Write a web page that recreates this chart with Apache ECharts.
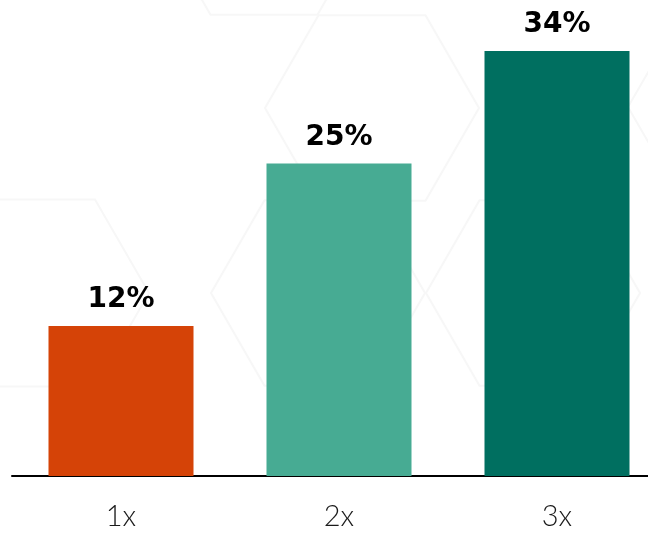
<!DOCTYPE html>
<html><head><meta charset="utf-8">
<script src="https://cdn.jsdelivr.net/npm/echarts@6/dist/echarts.min.js"></script>
<style>html,body{margin:0;padding:0;background:#fff;overflow:hidden;width:648px;height:534px}#c{width:666px;height:534px}</style>
</head><body><div id="c"></div>
<script>
const categories = ['1x', '2x', '3x'];
const values = [12, 25, 34];
const barColors = ['#d54307', '#47ab93', '#006f60'];

function hex(cx, cy, r) {
  const pts = [];
  for (let i = 0; i < 6; i++) {
    const a = Math.PI / 3 * i;
    pts.push([cx + r * Math.cos(a), cy + r * Math.sin(a)]);
  }
  return { type: 'polygon', z: -10, silent: true,
    shape: { points: pts },
    style: { fill: 'none', stroke: '#f7f7f7', lineWidth: 2 } };
}

const chart = echarts.init(document.getElementById('c'));
chart.setOption({
  animation: false,
  backgroundColor: '#fff',
  graphic: [hex(372, 108, 107), hex(41, 293, 108), hex(318, 293, 107), hex(533, 293, 107), hex(735, 107, 107), hex(264, -78, 107)],
  grid: { left: 12, right: 0, top: 26, bottom: 58, containLabel: false },
  xAxis: {
    type: 'category', data: categories,
    axisLine: { lineStyle: { color: '#000', width: 2 } },
    axisTick: { show: false },
    axisLabel: { color: '#1a1a1a', fontFamily: 'Lato', fontWeight: 300, fontSize: 29, margin: 26 }
  },
  yAxis: { type: 'value', min: 0, max: 36, show: false, splitLine: { show: false } },
  series: [{
    type: 'bar', barWidth: 145,
    data: values.map((v, i) => ({ value: v, itemStyle: { color: barColors[i] } })),
    label: { show: true, position: 'top', distance: 12, formatter: '{c}%',
      color: '#000', fontFamily: 'DejaVu Sans', fontWeight: 'bold', fontSize: 28 }
  }]
});
</script></body></html>
